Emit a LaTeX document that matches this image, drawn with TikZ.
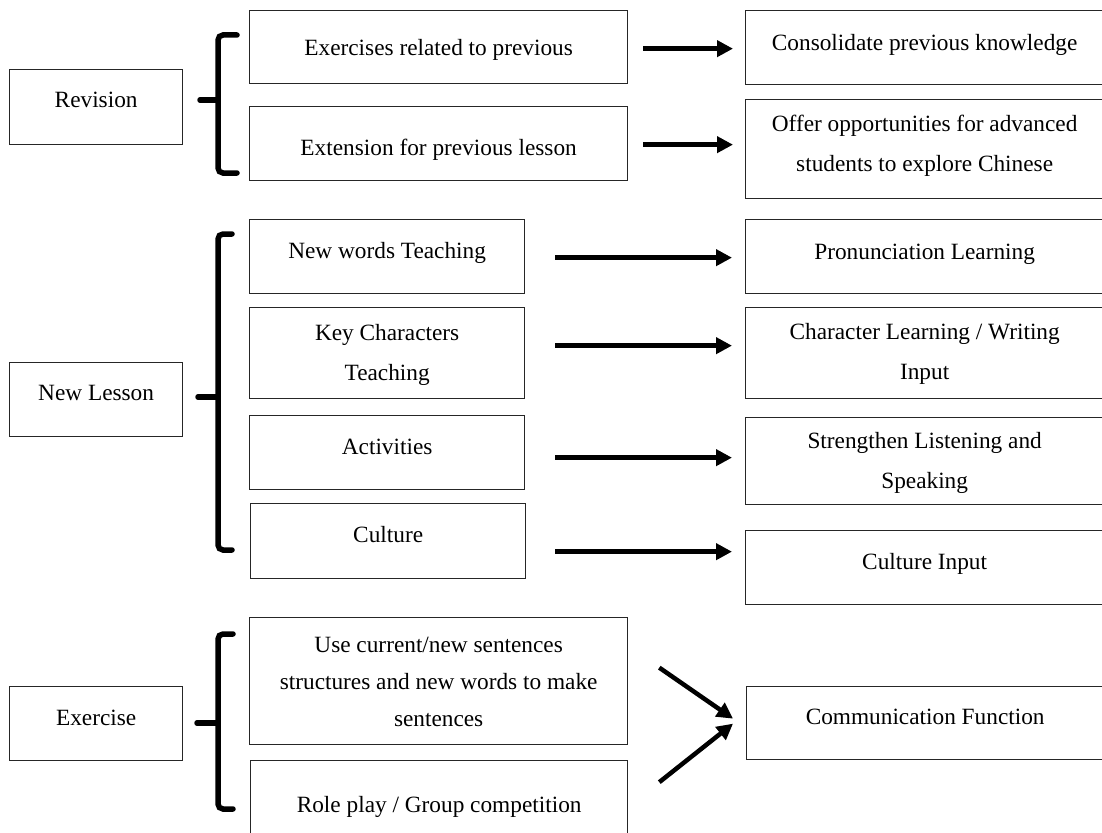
\documentclass[tikz,border=0pt]{standalone}
\usepackage{fontspec}
\setmainfont{Liberation Serif}
\usetikzlibrary{arrows.meta,calc}
\newcommand{\bxt}[5][40]{\parbox[c][#3pt][t]{#2pt}{\fontsize{23.3}{#1}\selectfont\centering\vspace*{#4pt}\strut #5}}
\begin{document}
\begin{tikzpicture}[x=1pt,y=-1pt,
  box/.style={draw=black!85, line width=1.3pt, inner sep=0pt, anchor=north west, text=black},
  arr/.style={line width=4.5pt, -{Triangle[length=16pt,width=16pt]}},
  brc/.style={line width=5.5pt, rounded corners=5pt, line cap=round}]
\useasboundingbox (0,0) rectangle (1102,832);
\fill[white] (0,0) rectangle (1102,832);

% Revision
\node[box] (rev) at (9,69) {\bxt{173}{75}{10}{Revision}};
\node[box] (exrel) at (249,10) {\bxt{378}{73}{17}{Exercises related to previous}};
\node[box] (ext) at (249,106) {\bxt{378}{74}{21}{Extension for previous lesson}};
\node[box] (cons) at (745,10) {\bxt{358}{74}{12}{Consolidate previous knowledge}};
\node[box] (offer) at (745,99) {\bxt{358}{99}{4}{Offer opportunities for advanced\\students to explore Chinese}};

% New Lesson
\node[box] (newl) at (9,362) {\bxt{173}{74}{10}{New Lesson}};
\node[box] (nw) at (249,219) {\bxt{275}{74}{11}{New words Teaching}};
\node[box] (kc) at (249,307) {\bxt{275}{91}{5}{Key Characters\\Teaching}};
\node[box] (act) at (249,415) {\bxt{275}{74}{11}{Activities}};
\node[box] (cul) at (250,503) {\bxt{275}{75}{11}{Culture}};
\node[box] (pron) at (745,219) {\bxt{358}{74}{12}{Pronunciation Learning}};
\node[box] (charl) at (745,307) {\bxt{358}{91}{4}{Character Learning / Writing\\Input}};
\node[box] (str) at (745,417) {\bxt{358}{87}{3}{Strengthen Listening and\\Speaking}};
\node[box] (culin) at (745,530) {\bxt{358}{74}{11}{Culture Input}};

% Exercise
\node[box] (exer) at (9,686) {\bxt{173}{74}{11}{Exercise}};
\node[box] (use) at (249,617) {\bxt[37]{378}{127}{9}{Use current/new sentences\\structures and new words to make\\sentences}};
\node[box] (role) at (250,760) {\bxt{377}{74}{24}{Role play / Group competition}};
\node[box] (comm) at (746,686) {\bxt{357}{73}{10}{Communication Function}};

% arrows
\draw[arr] ($(exrel.east)+(15,1.5)$) -- ($(exrel.east -| cons.west)+(-12,1.5)$);
\draw[arr] ($(ext.east)+(15,1)$) -- ($(ext.east -| offer.west)+(-12,1)$);
\draw[arr] ($(nw.east)+(30,1)$) -- ($(nw.east -| pron.west)+(-13,1)$);
\draw[arr] ($(kc.east)+(30,-7.5)$) -- ($(kc.east -| charl.west)+(-13,-7.5)$);
\draw[arr] ($(act.east)+(30,5)$) -- ($(act.east -| str.west)+(-13,5)$);
\draw[arr] ($(cul.east)+(29,10.5)$) -- ($(cul.east -| culin.west)+(-13,10.5)$);
\draw[arr] ($(use.east)+(31,-13.5)$) -- ($(comm.west)+(-13,-4.5)$);
\draw[arr] ($(role.east)+(31,-15.5)$) -- ($(comm.west)+(-13,0.5)$);

% braces
\draw[brc] (237,35) -- (218,35) -- (218,173) -- (237,173);
\draw[brc] (200,100) -- (218,100);
\draw[brc] (232,234) -- (218,234) -- (218,550) -- (232,550);
\draw[brc] (198,397) -- (218,397);
\draw[brc] (233,634) -- (218,634) -- (218,809) -- (233,809);
\draw[brc] (197,723) -- (218,723);
\end{tikzpicture}
\end{document}
